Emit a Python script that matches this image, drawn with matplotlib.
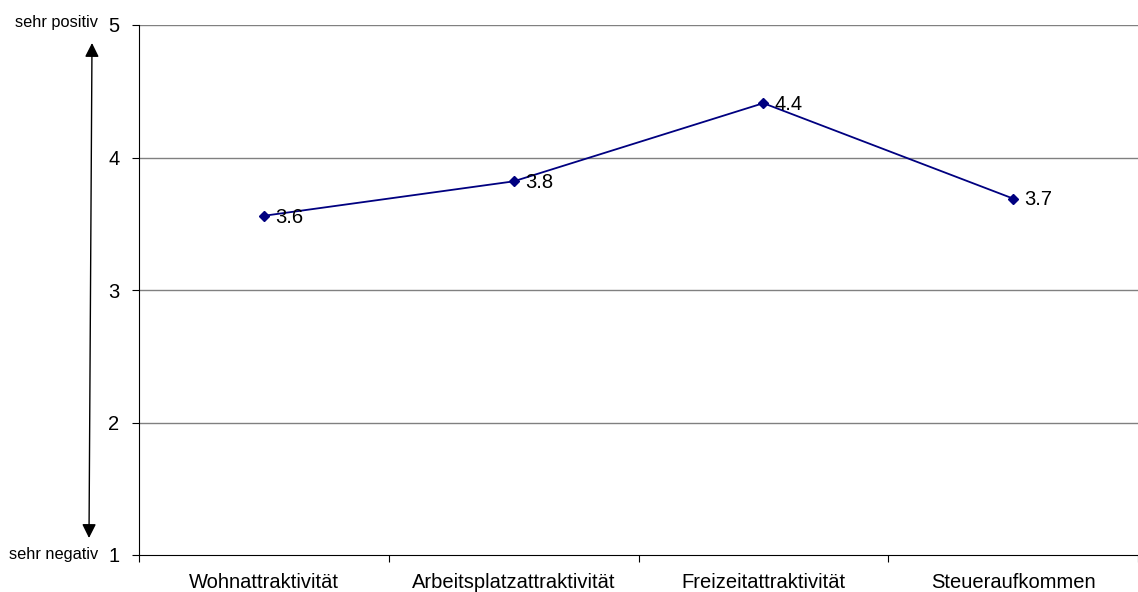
import matplotlib
matplotlib.use('Agg')
import matplotlib.pyplot as plt

categories = ['Wohnattraktivität', 'Arbeitsplatzattraktivität', 'Freizeitattraktivität', 'Steueraufkommen']
values = [3.56, 3.82, 4.41, 3.69]
labels = ['3.6', '3.8', '4.4', '3.7']
yticks = [1, 2, 3, 4, 5]

plt.rcParams['font.family'] = ['Liberation Sans', 'DejaVu Sans']

fig = plt.figure(figsize=(11.38, 5.92), dpi=100)
ax = fig.add_axes([139 / 1138, 37 / 592, 999 / 1138, 530 / 592])

xs = list(range(len(categories)))
ax.plot(xs, values, color='#000080', linewidth=1.3, marker='D', markersize=5,
        markerfacecolor='#000080', markeredgecolor='#000080', zorder=3)
for x, v, lab in zip(xs, values, labels):
    ax.annotate(lab, (x, v), xytext=(8, -1), textcoords='offset points',
                va='center', ha='left', fontsize=14.5, color='black')

ax.set_ylim(1, 5)
ax.set_xlim(-0.5, len(categories) - 0.5)
ax.set_yticks(yticks)
ax.set_yticklabels([str(t) for t in yticks], fontsize=14.5)
for t in yticks[1:]:
    ax.axhline(t, color='#808080', linewidth=1, zorder=1)

# category labels between boundary ticks
ax.set_xticks([i - 0.5 for i in range(len(categories) + 1)])
ax.set_xticklabels([])
ax.set_xticks(xs, minor=True)
ax.set_xticklabels(categories, minor=True, fontsize=14.5)
ax.tick_params(axis='x', which='minor', length=0, pad=13)
ax.tick_params(axis='x', which='major', length=5, direction='out', color='black')
ax.tick_params(axis='y', length=5, direction='out', pad=9)

ax.spines['top'].set_visible(False)
ax.spines['right'].set_visible(False)
ax.spines['left'].set_color('black')
ax.spines['bottom'].set_color('black')

fig.text(98 / 1138, 1 - 23 / 592, 'sehr positiv', fontsize=11.8, va='center', ha='right')
fig.text(98 / 1138, 1 - 555 / 592, 'sehr negativ', fontsize=11.8, va='center', ha='right')
fig.add_artist(matplotlib.patches.FancyArrowPatch(
    (92 / 1138, 1 - 43 / 592), (89 / 1138, 1 - 538 / 592),
    transform=fig.transFigure, arrowstyle='<|-|>,head_length=0.7,head_width=0.35',
    mutation_scale=12, color='black', linewidth=1, shrinkA=0, shrinkB=0))

fig.savefig('out.png', dpi=100)
